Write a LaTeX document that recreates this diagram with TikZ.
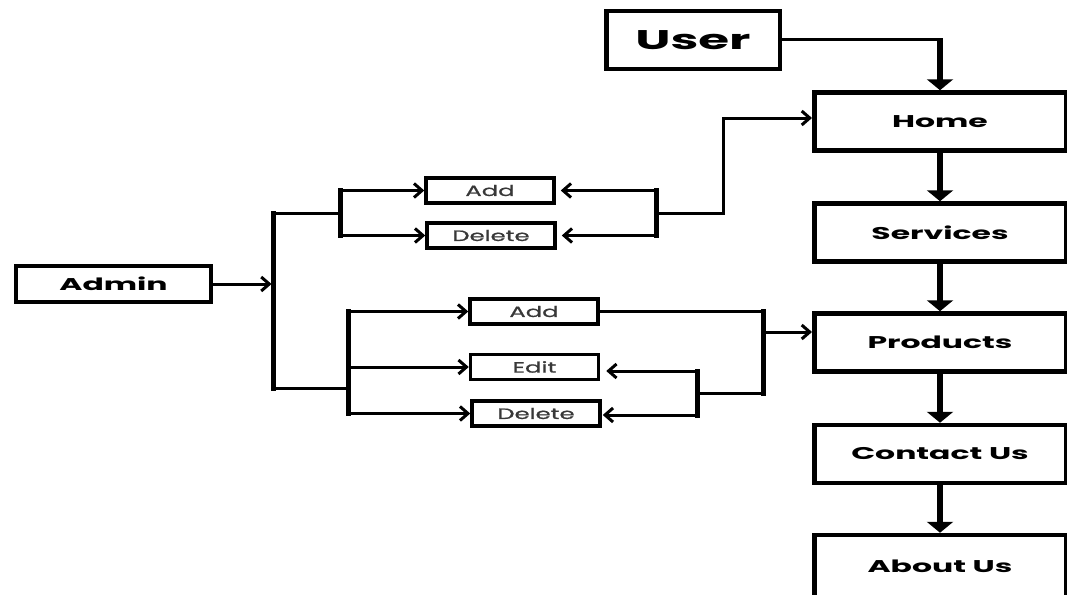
\documentclass[tikz,border=0pt]{standalone}
\usepackage{fontspec}
\setmainfont{Poppins}
\newfontfamily\headfont[FakeStretch=1.85]{Poppins}
\newfontfamily\itemfont[FakeStretch=1.62,FakeBold=1]{Poppins}
\usetikzlibrary{arrows.meta}

\definecolor{itemgray}{HTML}{383838}

\tikzset{
  pagebox/.style={draw=black, line width=4.5pt, fill=white, inner sep=0pt,
    minimum width=251.5pt, minimum height=58pt,
    font=\headfont\bfseries\fontsize{17}{20}\selectfont},
  rolebox/.style={draw=black, line width=4pt, inner sep=0pt,
    minimum width=195pt, minimum height=36pt,
    font=\headfont\bfseries\fontsize{17}{20}\selectfont},
  userbox/.style={draw=black, line width=4.5pt, inner sep=0pt,
    minimum width=173.5pt, minimum height=57.5pt,
    font=\headfont\bfseries\fontsize{27}{30}\selectfont},
  actbox/.style={draw=black, line width=3.5pt, inner sep=0pt,
    minimum width=128pt, minimum height=25pt, text=itemgray,
    font=\itemfont\fontsize{15}{18}\selectfont},
  flow/.style={line width=6pt, -{Triangle[length=11pt,width=26pt]}},
  link/.style={line width=3pt, -{Straight Barb[length=8pt,width=14pt]}},
  wire/.style={line width=3pt, line cap=rect},
  bus/.style={line width=5pt, line cap=rect},
}

\begin{document}
\begin{tikzpicture}[x=1pt,y=-1pt]
  \clip (0,0) rectangle (1067,594);

  % page column
  \node[userbox] (user) at (693,40) {User};
  \node[pagebox] (home) at (940,121.5) {Home};
  \node[pagebox] (services) at (940,232.5) {Services};
  \node[pagebox] (products) at (940,342.5) {Products};
  \node[pagebox] (contact) at (940,454) {Contact Us};
  % the last page box runs past the lower edge
  \node[pagebox, minimum height=62pt] (about) at (940,566) {About Us};

  % admin side
  \node[rolebox] (admin) at (113.5,284) {Admin};
  \node[actbox] (add1) at (490,190.5) {Add};
  \node[actbox] (del1) at (491,235.5) {Delete};
  \node[actbox] (add2) at (534,311.5) {Add};
  \node[actbox] (edit) at (534.5,367) {Edit};
  \node[actbox] (del2) at (536,413.5) {Delete};

  % user entry and page sequence
  \draw[wire] (user.east) -- (user.east -| home.north);
  \draw[flow] ([yshift=1.5pt]user.east -| home.north) -- (home.north);
  \draw[flow] (home.south) -- (services.north);
  \draw[flow] (services.south) -- (products.north);
  \draw[flow] (products.south) -- (contact.north);
  \draw[flow] (contact.south) -- (about.north);

  % admin trunk
  \coordinate (tA) at (273,213);
  \coordinate (tB) at (273,388);
  \draw[bus] (tA) -- (tB);
  \draw[link, shorten >=1.5pt] (admin.east) -- (admin.east -| tA);

  % first group of actions
  \coordinate (bA) at (340,213);
  \draw[wire] (tA) -- (bA);
  \draw[bus] (bA |- add1) -- (bA |- del1);
  \draw[link] (bA |- add1) -- (add1.west);
  \draw[link] (bA |- del1) -- (del1.west);

  % second group of actions
  \coordinate (bB) at (348,388);
  \draw[wire] (tB) -- (bB);
  \draw[bus] (bB |- add2) -- (bB |- del2);
  \draw[link] (bB |- add2) -- (add2.west);
  \draw[link] (bB |- edit) -- (edit.west);
  \draw[link] (bB |- del2) -- (del2.west);

  % first group back to Home
  \coordinate (rA) at (656,213);
  \coordinate (hA) at (723,118);
  \draw[bus] (rA |- add1) -- (rA |- del1);
  \draw[link, shorten >=5pt] (rA |- add1) -- (add1.east);
  \draw[link, shorten >=5pt] (rA |- del1) -- (del1.east);
  \draw[wire] (rA) -- (rA -| hA) -- (hA);
  \draw[link] (hA) -- (hA -| home.west);

  % second group to Products
  \coordinate (pA) at (763,332);
  \coordinate (pB) at (763,393);
  \coordinate (eJ) at (697,371);
  \coordinate (dJ) at (697,415);
  \draw[wire] (add2.east) -- (add2.east -| pA);
  \draw[bus] (pA |- add2) -- (pB);
  \draw[link] (pA) -- (pA -| products.west);
  \draw[wire] (pB) -- (pB -| eJ);
  \draw[bus] (eJ) -- (dJ);
  \draw[link, shorten >=6pt] (eJ) -- (eJ -| edit.east);
  \draw[link, shorten >=1pt] (dJ) -- (dJ -| del2.east);
\end{tikzpicture}
\end{document}
